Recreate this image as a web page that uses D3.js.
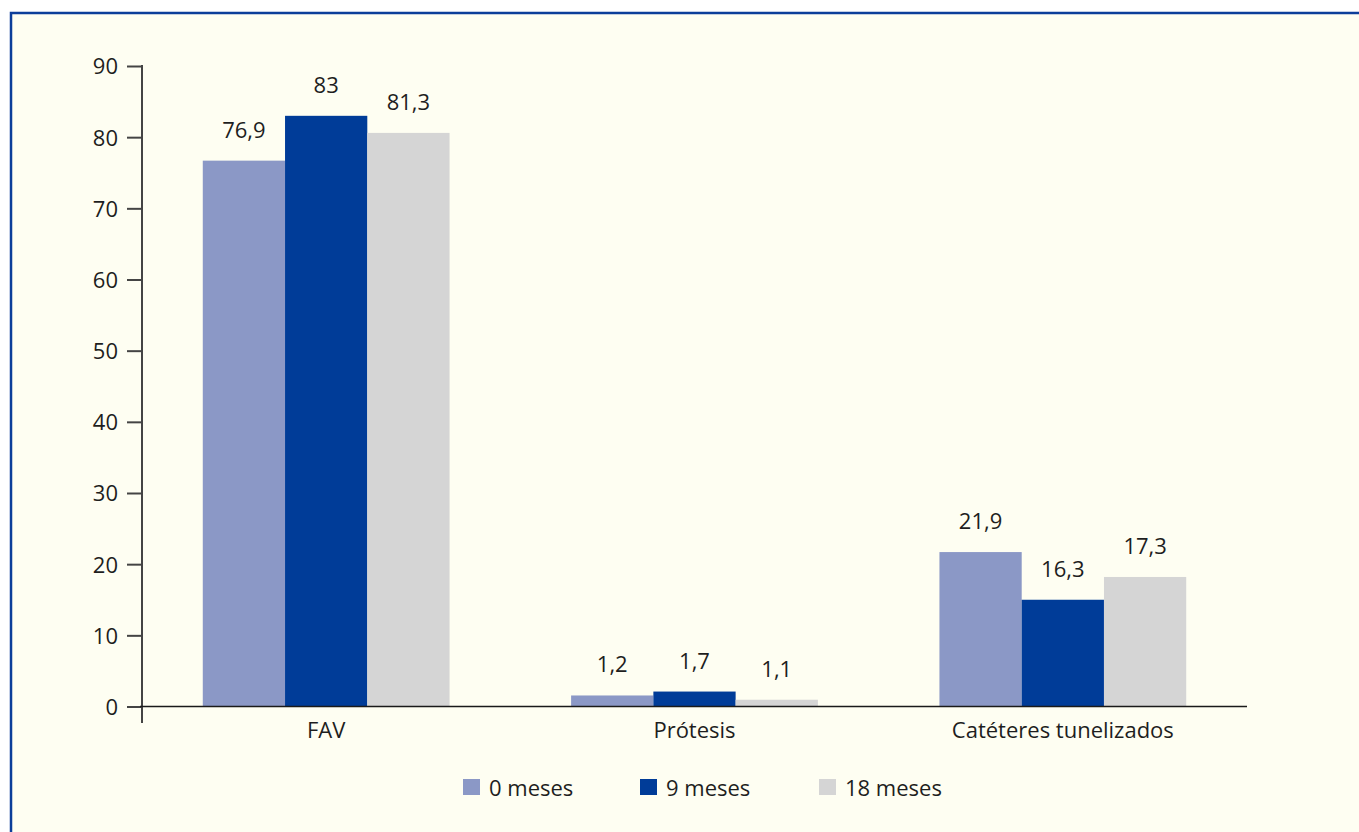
<!DOCTYPE html>
<html>
<head>
<meta charset="utf-8">
<script src="https://cdn.jsdelivr.net/npm/d3@7"></script>
<style>
  body { margin: 0; background: #fff; }
  text { font-family: "Open Sans", "Noto Sans", sans-serif; fill: #1e1e1e; }
</style>
</head>
<body>
<svg id="chart" width="1359" height="832"></svg>
<script>
// categories and series
const categories = ["FAV", "Prótesis", "Catéteres tunelizados"];
const seriesNames = ["0 meses", "9 meses", "18 meses"];
const seriesColors = ["#8b98c6", "#003c98", "#d5d5d5"];

// bar heights as drawn
const months0 = [76.7, 1.55, 21.7];
const months9 = [83.0, 2.1, 15.0];
const months18 = [80.6, 0.95, 18.2];

// value labels as printed above the bars
const labels0 = ["76,9", "1,2", "21,9"];
const labels9 = ["83", "1,7", "16,3"];
const labels18 = ["81,3", "1,1", "17,3"];

const yTicks = [0, 10, 20, 30, 40, 50, 60, 70, 80, 90];

const svg = d3.select('#chart');

// background panel with the blue frame on top and left
svg.append('rect')
  .attr('x', 11).attr('y', 13)
  .attr('width', 1348).attr('height', 819)
  .attr('fill', '#fefef2');
svg.append('path')
  .attr('d', 'M11,832 V13 H1359')
  .attr('fill', 'none')
  .attr('stroke', '#0c3e9a')
  .attr('stroke-width', 2.5);

const plotLeft = 142, plotRight = 1247, plotTop = 66, zero = 706.5;

const x0 = d3.scaleBand()
  .domain(categories)
  .range([plotLeft, plotRight])
  .paddingInner(0.33)
  .paddingOuter(0.165);

const x1 = d3.scaleBand()
  .domain(seriesNames)
  .range([0, x0.bandwidth()]);

const y = d3.scaleLinear().domain([0, 90]).range([zero, plotTop]);

const series = [
  { name: seriesNames[0], values: months0, labels: labels0 },
  { name: seriesNames[1], values: months9, labels: labels9 },
  { name: seriesNames[2], values: months18, labels: labels18 }
];

// bars
series.forEach((s, si) => {
  let g = svg.append('g').attr('class', 'series');
  g.selectAll('rect')
    .data(categories)
    .enter()
    .append('rect')
    .attr('x', (c) => x0(c) + x1(s.name))
    .attr('y', (c, i) => y(s.values[i]))
    .attr('width', x1.bandwidth())
    .attr('height', (c, i) => zero - y(s.values[i]))
    .attr('fill', seriesColors[si]);

  g.selectAll('text')
    .data(categories)
    .enter()
    .append('text')
    .attr('x', (c) => x0(c) + x1(s.name) + x1.bandwidth() / 2)
    .attr('y', (c, i) => y(s.values[i]) - 23)
    .attr('text-anchor', 'middle')
    .attr('font-size', 22)
    .text((c, i) => s.labels[i]);
});

// y axis
let yAxis = d3.axisLeft(y).tickValues(yTicks).tickSize(15).tickPadding(9);
let yg = svg.append('g')
  .attr('transform', `translate(${plotLeft},0)`)
  .call(yAxis);
yg.select('.domain').remove();
yg.selectAll('.tick line').attr('stroke', '#444').attr('stroke-width', 2);
yg.selectAll('.tick text').attr('font-size', 22).attr('dy', '0.36em');
svg.append('line')
  .attr('x1', plotLeft).attr('x2', plotLeft)
  .attr('y1', plotTop - 1).attr('y2', 723)
  .attr('stroke', '#444').attr('stroke-width', 2);

// x axis
svg.append('line')
  .attr('x1', plotLeft - 2).attr('x2', plotRight)
  .attr('y1', zero).attr('y2', zero)
  .attr('stroke', '#1a1a1a').attr('stroke-width', 1.5);
svg.append('g')
  .selectAll('text')
  .data(categories)
  .enter()
  .append('text')
  .attr('x', (c) => x0(c) + x0.bandwidth() / 2)
  .attr('y', 738)
  .attr('text-anchor', 'middle')
  .attr('font-size', 22)
  .text((c) => c);

// legend
const legendX = [463, 640, 819];
let legend = svg.append('g')
  .selectAll('g')
  .data(seriesNames)
  .enter()
  .append('g')
  .attr('transform', (d, i) => `translate(${legendX[i]},779)`);
legend.append('rect')
  .attr('width', 17).attr('height', 16)
  .attr('fill', (d, i) => seriesColors[i]);
legend.append('text')
  .attr('x', 26).attr('y', 17)
  .attr('font-size', 22)
  .text((d) => d);
</script>
</body>
</html>
